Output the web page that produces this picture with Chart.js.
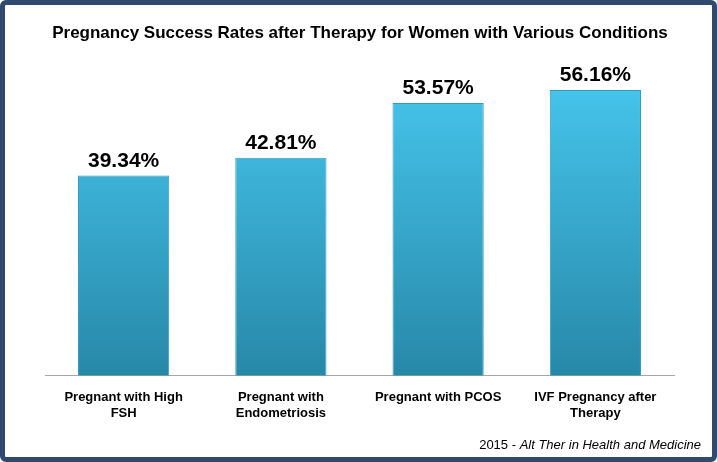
<!DOCTYPE html>
<html><head>
<script src="https://cdn.jsdelivr.net/npm/chart.js@4"></script>
<style>
body{margin:0;background:#fff}
#wrap{width:717px;height:462px;box-sizing:border-box;border:5px solid #2f4a6c;border-radius:6px;position:relative}
</style></head>
<body><div id="wrap"><canvas id="c" width="707" height="452"></canvas></div>
<script>
var categories = [['Pregnant with High','FSH'], ['Pregnant with','Endometriosis'], ['Pregnant with PCOS'], ['IVF Pregnancy after','Therapy']];
var rates = [39.34, 42.81, 53.57, 56.16];

var extras = {
  id: 'extras',
  afterDraw: function(chart){
    var ctx = chart.ctx;
    ctx.save();
    ctx.fillStyle = '#000';
    ctx.textAlign = 'center';
    ctx.font = 'bold 17px Arial, "Liberation Sans"';
    ctx.fillText('Pregnancy Success Rates after Therapy for Women with Various Conditions', 355, 33);
    var meta = chart.getDatasetMeta(0);
    ctx.font = 'bold 21px Arial, "Liberation Sans"';
    meta.data.forEach(function(bar, i){
      ctx.fillText(rates[i].toFixed(2) + '%', bar.x, bar.y - 9);
    });
    ctx.textAlign = 'right';
    ctx.font = 'italic 13px Arial, "Liberation Sans"';
    var it = 'Alt Ther in Health and Medicine';
    ctx.fillText(it, 696, 444);
    var w = ctx.measureText(it).width;
    ctx.font = '13px Arial, "Liberation Sans"';
    ctx.fillText('2015 - ', 696 - w, 444);
    ctx.restore();
  }
};

new Chart(document.getElementById('c'), {
  type: 'bar',
  data: {
    labels: categories,
    datasets: [{
      data: rates,
      backgroundColor: function(c){
        var a = c.chart.chartArea;
        if (!a) return '#3ab4dc';
        var g = c.chart.ctx.createLinearGradient(0, a.top + 40, 0, a.bottom);
        g.addColorStop(0, '#45c3ea');
        g.addColorStop(1, '#2788a8');
        return g;
      },
      borderColor: '#2a9cc2',
      borderWidth: 1,
      barPercentage: 0.58,
      categoryPercentage: 1
    }]
  },
  options: {
    responsive: false,
    animation: false,
    layout: {padding: {left: 40, right: 38, top: 45, bottom: 30}},
    plugins: {legend: {display: false}, tooltip: {enabled: false}, title: {display: false}},
    scales: {
      y: {display: false, min: 0, max: 64},
      x: {
        grid: {display: false},
        border: {color: '#a6a6a6'},
        ticks: {color: '#000', font: {family: 'Arial, "Liberation Sans"', size: 13, weight: 'bold'}, maxRotation: 0, padding: 6}
      }
    }
  },
  plugins: [extras]
});
</script></body></html>
